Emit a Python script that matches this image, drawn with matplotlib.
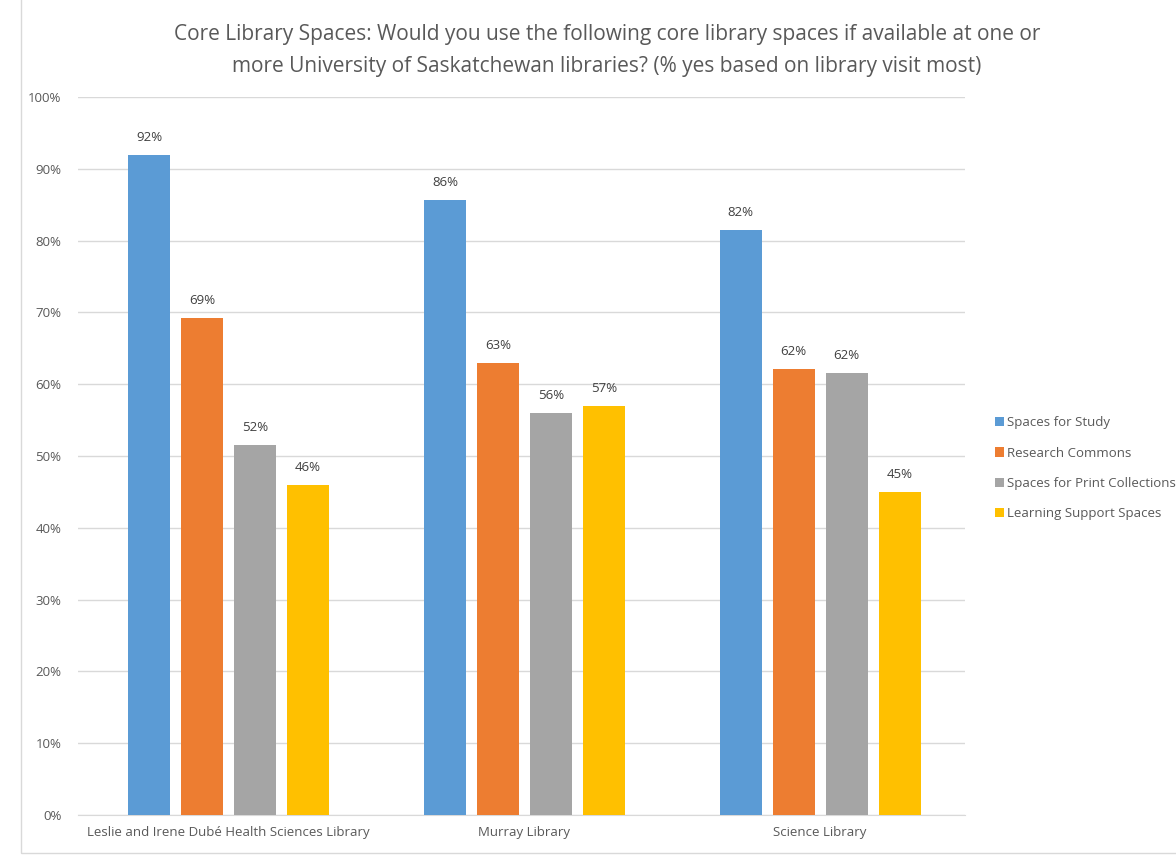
import matplotlib.pyplot as plt
import numpy as np
from matplotlib.patches import Rectangle

libraries = ['Leslie and Irene Dubé Health Sciences Library', 'Murray Library', 'Science Library']
series = ['Spaces for Study', 'Research Commons', 'Spaces for Print Collections', 'Learning Support Spaces']
study = [92, 86, 82]
commons = [69, 63, 62]
print_coll = [52, 56, 62]
learning = [46, 57, 45]
# actual bar heights (labels are rounded)
study_h = [91.9, 85.7, 81.5]
commons_h = [69.2, 63.0, 62.1]
print_h = [51.6, 56.0, 61.6]
learning_h = [46.0, 57.0, 45.0]

colors = ['#5b9bd5', '#ed7d31', '#a5a5a5', '#ffc000']
txt = '#595959'
plt.rcParams['font.family'] = ['Open Sans', 'DejaVu Sans']

fig = plt.figure(figsize=(11.76, 8.56), dpi=100)
ax = fig.add_axes([0.0663, 0.0479, 0.8206 - 0.0663, 0.8867 - 0.0479])

# chart border
fig.patches.append(Rectangle((21 / 1176, 3 / 856), 1.0, 0.999, transform=fig.transFigure,
                             fill=False, edgecolor='#d9d9d9', linewidth=1))

x = np.arange(len(libraries))
width = 0.142
step = 0.179
heights = [study_h, commons_h, print_h, learning_h]
labels = [study, commons, print_coll, learning]
for i in range(4):
    pos = x + (i - 1.5) * step
    bars = ax.bar(pos, heights[i], width, color=colors[i], label=series[i], zorder=3)
    for p, h, lab in zip(pos, heights[i], labels[i]):
        ax.text(p, h + 1.5, f'{lab}%', ha='center', va='bottom', fontsize=9.5, color='#404040')

ax.set_xlim(-0.51, 2.49)
ax.set_ylim(0, 100)
ax.set_yticks(range(0, 101, 10))
ax.set_yticklabels([f'{v}%' for v in range(0, 101, 10)])
ax.set_xticks(x)
ax.set_xticklabels(libraries)
ax.tick_params(axis='both', length=0, labelsize=9.5, labelcolor=txt)
ax.tick_params(axis='y', pad=12)
ax.tick_params(axis='x', pad=8)
ax.grid(axis='y', color='#d9d9d9', linewidth=1, zorder=0)
for s in ['top', 'right', 'left']:
    ax.spines[s].set_visible(False)
ax.spines['bottom'].set_color('#d9d9d9')

fig.text(0.516, 0.941, 'Core Library Spaces: Would you use the following core library spaces if available at one or\n'
         'more University of Saskatchewan libraries? (% yes based on library visit most)',
         ha='center', va='center', fontsize=15, color=txt, linespacing=1.65)

ax.legend(loc='center left', bbox_to_anchor=(1.02, 0.483), frameon=False, fontsize=9.5,
          labelcolor=txt, handlelength=0.7, handleheight=0.7, handletextpad=0.2, labelspacing=1.3)

fig.savefig('out.png', dpi=100)
